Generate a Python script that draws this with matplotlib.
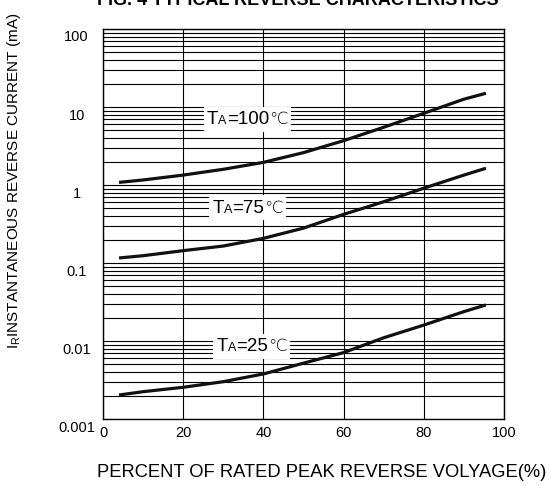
import numpy as np
import matplotlib
matplotlib.use("Agg")
import matplotlib.pyplot as plt
from matplotlib.ticker import FixedLocator, NullFormatter
from matplotlib.transforms import ScaledTranslation
from matplotlib.offsetbox import TextArea, HPacker, AnnotationBbox

plt.rcParams['font.family'] = ['Liberation Sans', 'DejaVu Sans']

# percent of rated peak reverse voltage
pct = [4, 10, 20, 30, 40, 50, 60, 70, 80, 90, 95.5]
# reverse current (mA) per ambient temperature
ir_100 = [1.08, 1.16, 1.34, 1.59, 1.95, 2.6, 3.7, 5.5, 8.3, 12.6, 15.0]
ir_75 = [0.116, 0.124, 0.144, 0.165, 0.207, 0.28, 0.42, 0.61, 0.91, 1.34, 1.64]
ir_25 = [0.00203, 0.00224, 0.00255, 0.00301, 0.00378, 0.0052, 0.0071,
         0.011, 0.016, 0.0238, 0.029]
curve_labels = ["100", "75", "25"]
label_pos = [(36, 7.0), (36, 0.51), (37, 0.0086)]

y_ticks = [100, 10, 1, 0.1, 0.01, 0.001]
y_ticklabels = ["100", "10", "1", "0.1", "0.01", "0.001"]
x_ticks = [0, 20, 40, 60, 80, 100]

fig = plt.figure(figsize=(5.5, 4.86), dpi=100)
ax = fig.add_axes([103 / 550, 1 - 419 / 486, 401 / 550, 390 / 486])
ax.set_yscale("log")
ax.set_xlim(0, 100)
ax.set_ylim(0.001, 100)

# grid
minors = [m * 10.0 ** e for e in range(-3, 2) for m in range(2, 10)]
ax.yaxis.set_minor_locator(FixedLocator(minors))
ax.yaxis.set_minor_formatter(NullFormatter())
ax.set_yticks(y_ticks)
ax.set_yticklabels(y_ticklabels)
ax.set_xticks(x_ticks)
ax.grid(True, which="both", axis="y", color="black", lw=0.8)
ax.grid(True, which="major", axis="x", color="black", lw=0.8)
ax.tick_params(which="both", length=0, labelsize=10.5)
ax.tick_params(axis="y", pad=19)
ax.tick_params(axis="x", pad=5)
for s in ax.spines.values():
    s.set_linewidth(1.0)
    s.set_color("black")

off = ScaledTranslation(0, -7 / 100, fig.dpi_scale_trans)
for lab in ax.get_yticklabels():
    lab.set_horizontalalignment("center")
    lab.set_transform(lab.get_transform() + off)

# curves
for series in [ir_100, ir_75, ir_25]:
    ax.plot(pct, series, color="#111111", lw=2.3, zorder=3,
            solid_joinstyle="round", solid_capstyle="butt")

deg_font = ['Liberation Sans', 'DejaVu Sans']
for name, (x, y) in zip(curve_labels, label_pos):
    parts = [TextArea("T", textprops=dict(fontsize=13.5, family=deg_font)),
             TextArea("A", textprops=dict(fontsize=9, family=deg_font)),
             TextArea("=" + name, textprops=dict(fontsize=13.5, family=deg_font)),
             TextArea("\u2103", textprops=dict(fontsize=12, family=['DejaVu Sans'],
                                                fontweight="light"))]
    box = HPacker(children=parts, align="baseline", pad=0, sep=0)
    ab = AnnotationBbox(box, (x, y), xycoords="data", frameon=True,
                        box_alignment=(0.5, 0.5), pad=0.25,
                        bboxprops=dict(facecolor="white", edgecolor="none"),
                        zorder=4)
    ax.add_artist(ab)

fig.text(298 / 550, 1 - 5 / 486, "FIG. 4 TYPICAL REVERSE CHARACTERISTICS",
         ha="center", va="baseline", fontsize=13, fontweight="bold")
fig.text(14 / 550, 1 - 181 / 486,
         r"$\mathregular{I_R}$INSTANTANEOUS REVERSE CURRENT (mA)",
         rotation=90, ha="center", va="center", fontsize=11)
fig.text(322 / 550, 1 - 472 / 486, "PERCENT OF RATED PEAK REVERSE VOLYAGE(%)",
         ha="center", va="center", fontsize=13.2)

fig.savefig("out.png", dpi=100)
